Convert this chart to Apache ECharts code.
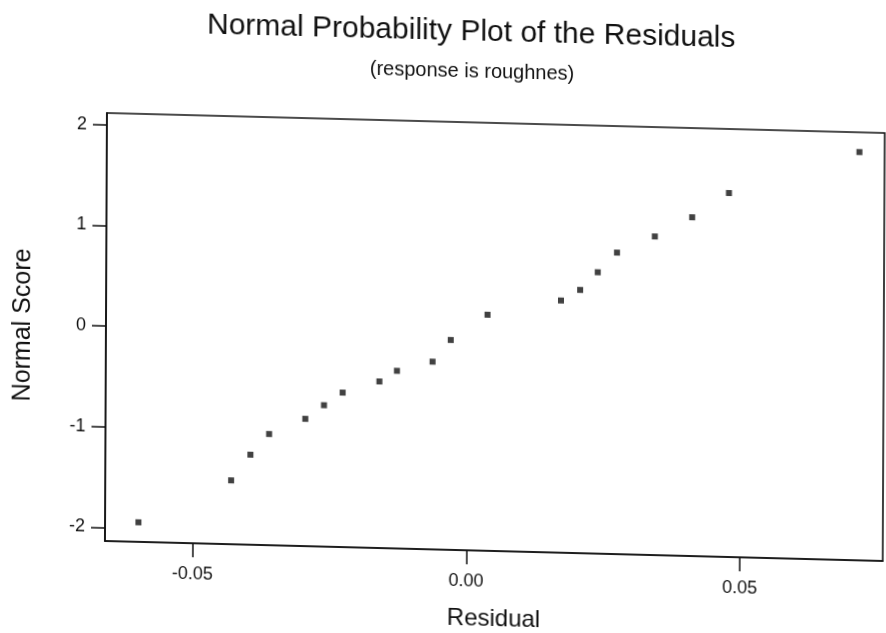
<!DOCTYPE html>
<html>
<head>
<meta charset="utf-8">
<script src="https://cdn.jsdelivr.net/npm/echarts@6/dist/echarts.min.js"></script>
<style>
  html, body { margin: 0; padding: 0; background: #fff; overflow: hidden; }
  /* the source is a slightly skewed scan, so the whole chart is tilted a bit */
  #chart {
    position: absolute; left: 0; top: 0; width: 886px; height: 633px;
    transform-origin: 107px 113px;
    transform: matrix(1, 0.0257, -0.0047, 1, 0, 0);
  }
</style>
</head>
<body>
<div id="chart"></div>
<script>
const residuals = [-0.0599, -0.0430, -0.0395, -0.0361, -0.0295, -0.0261, -0.0227, -0.0160, -0.0128, -0.0063,
  -0.0030, 0.0037, 0.0171, 0.0206, 0.0238, 0.0273, 0.0342, 0.0410, 0.0477, 0.0715];
const normalScores = [-1.94, -1.50, -1.24, -1.03, -0.87, -0.73, -0.60, -0.48, -0.37, -0.27,
  -0.05, 0.21, 0.37, 0.48, 0.66, 0.86, 1.03, 1.23, 1.48, 1.92];
const xTicks = [-0.05, 0.00, 0.05];
const yTicks = [-2, -1, 0, 1, 2];

const font = "'Liberation Sans', Arial, sans-serif";
const ink = '#111';

const points = residuals.map((r, i) => [r, normalScores[i]]);

const chart = echarts.init(document.getElementById('chart'));
const option = {
  backgroundColor: '#fff',
  animation: false,
  title: [{
    text: 'Normal Probability Plot of the Residuals',
    left: 471,
    top: 8,
    textAlign: 'center',
    padding: 0,
    textStyle: { fontFamily: font, fontSize: 30, fontWeight: 'normal', color: ink }
  }, {
    text: '(response is roughnes)',
    left: 472,
    top: 52,
    textAlign: 'center',
    padding: 0,
    textStyle: { fontFamily: font, fontSize: 20, fontWeight: 'normal', color: ink }
  }],
  grid: {
    left: 107,
    top: 113,
    width: 778,
    height: 428,
    show: true,
    borderColor: ink,
    borderWidth: 1.6,
    containLabel: false
  },
  xAxis: {
    type: 'value',
    min: -0.066,
    max: 0.0761,
    name: 'Residual',
    nameLocation: 'middle',
    nameGap: 56,
    nameTextStyle: { fontFamily: font, fontSize: 24, color: ink },
    axisLine: { show: true, onZero: false, lineStyle: { color: ink, width: 1.6 } },
    axisTick: { show: true, length: 14, customValues: xTicks, lineStyle: { color: ink, width: 1.5 } },
    axisLabel: {
      customValues: xTicks,
      margin: 22,
      fontFamily: font,
      fontSize: 18,
      color: ink,
      formatter: (v) => v.toFixed(2)
    },
    splitLine: { show: false }
  },
  yAxis: {
    type: 'value',
    min: -2.134,
    max: 2.116,
    name: 'Normal Score',
    nameLocation: 'middle',
    nameGap: 70,
    nameTextStyle: { fontFamily: font, fontSize: 25, color: ink },
    axisLine: { show: true, onZero: false, lineStyle: { color: ink, width: 1.6 } },
    axisTick: { show: true, length: 14, customValues: yTicks, lineStyle: { color: ink, width: 1.5 } },
    axisLabel: {
      customValues: yTicks,
      margin: 20,
      fontFamily: font,
      fontSize: 18,
      color: ink,
      formatter: (v) => String(v)
    },
    splitLine: { show: false }
  },
  series: [{
    name: 'Residual',
    type: 'scatter',
    symbol: 'rect',
    symbolSize: 6,
    itemStyle: { color: ink },
    data: points
  }]
};
chart.setOption(option);
</script>
</body>
</html>
